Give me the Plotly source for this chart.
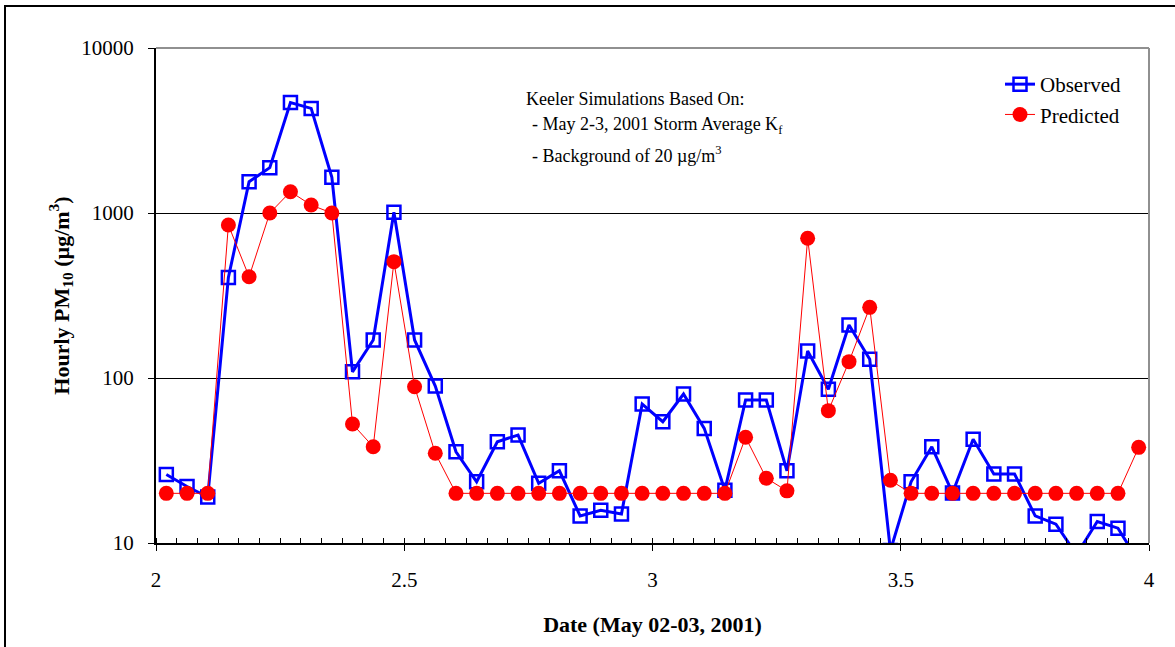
import plotly.graph_objects as go

# Hour mid-points (fractional day of May)
date = [2.0208, 2.0625, 2.1042, 2.1458, 2.1875, 2.2292, 2.2708, 2.3125,
        2.3542, 2.3958, 2.4375, 2.4792, 2.5208, 2.5625, 2.6042, 2.6458,
        2.6875, 2.7292, 2.7708, 2.8125, 2.8542, 2.8958, 2.9375, 2.9792,
        3.0208, 3.0625, 3.1042, 3.1458, 3.1875, 3.2292, 3.2708, 3.3125,
        3.3542, 3.3958, 3.4375, 3.4792, 3.5208, 3.5625, 3.6042, 3.6458,
        3.6875, 3.7292, 3.7708, 3.8125, 3.8542, 3.8958, 3.9375, 3.9792]

observed = [26, 22, 19, 407, 1548, 1883, 4666, 4303,
            1645, 109, 170, 1009, 170, 89.4, 35.7, 23.5,
            41.1, 45.1, 23.0, 27.4, 14.6, 15.8, 15.0, 69.5,
            54.3, 80, 49.5, 20.9, 73.6, 73.6, 27.4, 145.7,
            85.4, 209.5, 129.8, 9, 23.5, 38.3, 20.1, 42.5,
            26.2, 26.2, 14.6, 13.0, 8.5, 13.5, 12.3, 7.7]

predicted = [20, 20, 20, 846, 411, 1000, 1346, 1117,
             1000, 52.6, 38.3, 507, 88.5, 35, 20, 20,
             20, 20, 20, 20, 20, 20, 20, 20,
             20, 20, 20, 20, 43.7, 24.7, 20.7, 703,
             63.4, 125.6, 268, 24, 20, 20, 20, 20,
             20, 20, 20, 20, 20, 20, 20, 38]

x_ticks = [2, 2.5, 3, 3.5, 4]
x_tick_labels = ["2", "2.5", "3", "3.5", "4"]
y_ticks = [10, 100, 1000, 10000]
y_tick_labels = ["10", "100", "1000", "10000"]

FONT = "Liberation Serif, Times New Roman, serif"

fig = go.Figure()
fig.add_trace(go.Scatter(
    x=date, y=observed, name="Observed", mode="lines+markers",
    line=dict(color="#0000FF", width=3),
    marker=dict(symbol="square-open", size=13, color="#0000FF",
                line=dict(width=2.5, color="#0000FF")),
))
fig.add_trace(go.Scatter(
    x=date, y=predicted, name="Predicted", mode="lines+markers",
    line=dict(color="#FF0000", width=1),
    marker=dict(symbol="circle", size=15, color="#FF0000"),
))

L, R, T, B = 156, 26, 48, 104
W, H = 1175, 647
pw, ph = W - L - R, H - T - B

def px(xp):
    return (xp - L) / pw

def py(yp):
    return (H - B - yp) / ph

fig.update_layout(
    width=W, height=H,
    margin=dict(l=L, r=R, t=T, b=B, pad=0),
    paper_bgcolor="white", plot_bgcolor="white",
    font=dict(family=FONT, size=20, color="black"),
    showlegend=True,
    legend=dict(x=px(1000), y=py(64), xanchor="left", yanchor="top",
                bgcolor="rgba(0,0,0,0)", font=dict(size=21, family=FONT),
                tracegroupgap=0, itemsizing="trace"),
    xaxis=dict(
        range=[2, 4], tickvals=x_ticks, ticktext=x_tick_labels,
        showgrid=False, zeroline=False,
        showline=True, linecolor="black", linewidth=2,
        ticks="outside", ticklen=6, tickwidth=1, tickcolor="black",
        ticklabelstandoff=11,
        minor=dict(dtick=1/24, tick0=2, ticks="inside", ticklen=5,
                   tickwidth=1, tickcolor="black", showgrid=False),
        tickfont=dict(size=21, family=FONT),
        title=dict(text="<b>Date (May 02-03, 2001)</b>",
                   font=dict(size=22, family=FONT), standoff=25),
    ),
    yaxis=dict(
        type="log", range=[1, 4], tickvals=y_ticks, ticktext=y_tick_labels,
        showgrid=True, gridcolor="black", gridwidth=1, zeroline=False,
        showline=True, linecolor="black", linewidth=2,
        ticks="outside", ticklen=6, tickwidth=1, tickcolor="black",
        ticklabelstandoff=10,
        tickfont=dict(size=21, family=FONT),
        title=dict(text="<b>Hourly PM<sub>10</sub> (µg/m<sup>3</sup>)</b>",
                   font=dict(size=22, family=FONT), standoff=6),
    ),
    shapes=[
        dict(type="line", xref="paper", yref="paper", x0=0, x1=1, y0=1, y1=1,
             line=dict(color="#909090", width=2), layer="above"),
        dict(type="line", xref="paper", yref="paper", x0=1, x1=1, y0=0, y1=1,
             line=dict(color="#909090", width=2), layer="above"),
        dict(type="rect", xref="paper", yref="paper",
             x0=px(5), x1=px(1190), y0=py(670), y1=py(6),
             line=dict(color="black", width=2), layer="above"),
    ],
    annotations=[
        dict(text="Keeler Simulations Based On:", xref="paper", yref="paper",
             x=px(524), y=py(99), xanchor="left", yanchor="middle",
             showarrow=False, font=dict(size=18, family=FONT)),
        dict(text="- May 2-3, 2001 Storm Average K<sub>f</sub>", xref="paper", yref="paper",
             x=px(530), y=py(125), xanchor="left", yanchor="middle",
             showarrow=False, font=dict(size=18, family=FONT)),
        dict(text="- Background of 20 µg/m<sup>3</sup>", xref="paper", yref="paper",
             x=px(530), y=py(154), xanchor="left", yanchor="middle",
             showarrow=False, font=dict(size=18, family=FONT)),
    ],
)

fig.write_html("out.html", config={"displayModeBar": False},
               post_script="document.body.style.margin='0';")
